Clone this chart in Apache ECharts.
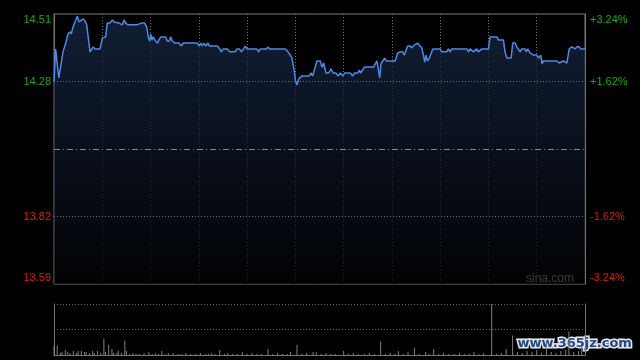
<!DOCTYPE html>
<html>
<head>
<meta charset="utf-8">
<script src="https://cdn.jsdelivr.net/npm/echarts@6/dist/echarts.min.js"></script>
<style>
  html, body { margin: 0; background: #000; }
  #chart { width: 640px; height: 360px; }
</style>
</head>
<body>
<div id="chart"></div>
<script>
// minutes since 9:30 (HK session, lunch break folded out) and price
const priceTimes = [0, 1, 3, 4, 5.6, 7.3, 8.7, 10, 10.8, 11.6, 12.8, 14.5, 15.5, 16.6, 18.2, 19.3, 20.3, 21.3, 22.4, 23.4,
  24.4, 25.5, 28.6, 30, 32.1, 33.1, 34.8, 36.3, 37.3, 40.4, 41.4, 42.5, 43.5, 44.5, 46, 47.2, 48.5, 51.4, 52.4, 54.3,
  55.3, 56.3, 57.6, 58.6, 59.5, 60.1, 60.9, 61.7, 62.8, 64.2, 65.3, 66.3, 69.4, 70.4, 71.7, 72.5, 73.5, 75, 77.7, 79.1,
  80.4, 89.1, 90.3, 91.2, 92.2, 93.2, 94.3, 95.7, 96.5, 101.5, 103, 104, 105.2, 107.7, 109.2, 112.7, 113.7, 115.2, 116.4, 117.9,
  118.9, 119.9, 126.1, 127.2, 128.2, 132, 133, 134, 143.7, 145.4, 146.9, 147.9, 148.9, 149.5, 150, 151, 152.1, 153.1, 154.1, 158.7,
  159.7, 160.8, 162, 163.4, 165.5, 166.5, 167.6, 169, 170.7, 172.1, 173.4, 175.2, 176.5, 177.9, 179.6, 180.6, 184.1, 185.6, 186.8, 188.9,
  189.7, 190.6, 191.8, 192.9, 198.6, 200.7, 201.8, 202.4, 203.2, 204.2, 205.5, 206.5, 212.1, 213.6, 215.2, 216.7, 217.7, 218.7, 219.8, 221.4,
  222.3, 223.8, 225.9, 227.5, 228.6, 229.6, 230.4, 231.2, 232.1, 233.3, 234.4, 235.4, 240, 241, 244.1, 245.1, 246.2, 247.2, 256.5, 257.6,
  258.6, 259.6, 260.7, 261.7, 262.7, 263.8, 264.8, 265.8, 270, 271, 275.2, 276.2, 279.3, 280.3, 281.4, 284.1, 285.1, 286.6, 287.6, 289.7,
  290.7, 292.8, 293.4, 294.4, 295.9, 296.9, 298, 299, 300, 301.1, 302.5, 303.3, 304.2, 312.5, 313.9, 315.1, 316.6, 317.6, 318.7, 320.2,
  321.8, 322.8, 323.8, 324.9, 326.3, 327.4, 330];
const prices = [14.278, 14.391, 14.292, 14.295, 14.381, 14.411, 14.442, 14.449, 14.442, 14.462, 14.466, 14.503, 14.483, 14.483, 14.493, 14.486, 14.473, 14.479, 14.381, 14.381,
  14.398, 14.391, 14.391, 14.428, 14.432, 14.479, 14.479, 14.490, 14.483, 14.479, 14.473, 14.473, 14.490, 14.479, 14.473, 14.479, 14.473, 14.473, 14.479, 14.479,
  14.473, 14.479, 14.466, 14.432, 14.418, 14.442, 14.421, 14.432, 14.421, 14.411, 14.411, 14.432, 14.432, 14.418, 14.418, 14.432, 14.418, 14.411, 14.411, 14.401,
  14.411, 14.411, 14.401, 14.411, 14.401, 14.411, 14.401, 14.411, 14.401, 14.401, 14.391, 14.381, 14.391, 14.391, 14.381, 14.381, 14.391, 14.391, 14.381, 14.391,
  14.401, 14.391, 14.391, 14.381, 14.391, 14.391, 14.398, 14.391, 14.391, 14.381, 14.370, 14.360, 14.357, 14.309, 14.285, 14.268, 14.289, 14.292, 14.299, 14.299,
  14.309, 14.299, 14.323, 14.350, 14.350, 14.329, 14.343, 14.309, 14.309, 14.323, 14.309, 14.309, 14.299, 14.309, 14.299, 14.309, 14.309, 14.299, 14.309, 14.309,
  14.319, 14.309, 14.309, 14.329, 14.329, 14.350, 14.350, 14.292, 14.340, 14.340, 14.360, 14.350, 14.350, 14.377, 14.381, 14.381, 14.370, 14.370, 14.401, 14.401,
  14.394, 14.404, 14.411, 14.401, 14.394, 14.370, 14.346, 14.370, 14.350, 14.360, 14.360, 14.391, 14.391, 14.381, 14.381, 14.391, 14.381, 14.391, 14.391, 14.381,
  14.391, 14.391, 14.381, 14.381, 14.391, 14.381, 14.381, 14.391, 14.391, 14.432, 14.432, 14.421, 14.421, 14.381, 14.360, 14.360, 14.411, 14.411, 14.398, 14.381,
  14.391, 14.391, 14.381, 14.391, 14.377, 14.381, 14.370, 14.367, 14.370, 14.360, 14.370, 14.340, 14.350, 14.350, 14.343, 14.343, 14.350, 14.350, 14.343, 14.391,
  14.398, 14.398, 14.391, 14.398, 14.398, 14.391, 14.391];
const prevClose = 14.05;
const priceTicks = [13.59, 13.82, 14.28, 14.51];
const priceLabels = ['13.59', '13.82', '14.28', '14.51'];
const pctLabels = ['-3.24%', '-1.62%', '+1.62%', '+3.24%'];
const volTimes = [0, 2, 4, 5, 7, 8.5, 10, 12, 14, 15, 17, 19, 20, 22, 24, 25, 27, 29, 31, 32,
  34, 36, 37, 39, 40, 42, 44, 45, 47, 49, 51, 53, 56, 59, 61, 63, 65, 67, 69, 71,
  74, 77, 79, 82, 85, 88, 91, 94, 96, 98, 100, 103, 106, 108, 111, 114, 117, 120, 123, 126,
  129, 133, 136, 139, 142, 145, 147, 151, 154, 157, 161, 163, 166, 169, 172, 175, 180, 183, 186, 189,
  193, 196, 199, 203, 206, 209, 212, 214, 217, 220, 224, 227, 231, 233, 236, 239, 242, 245, 249, 252,
  255, 258, 261, 264, 267, 272, 275, 278, 281, 285, 288, 291, 294, 297, 300, 303, 306, 309, 312, 315,
  318, 320, 323, 326, 328];
const volumes = [9, 9, 2, 3, 5, 3, 2, 4, 2, 4, 4, 3, 3, 2, 4, 2, 4, 2, 16, 3,
  10, 6, 2, 2, 4, 2, 14, 4, 1, 2, 1, 1, 2, 3, 1, 2, 1, 4, 1, 2,
  2, 1, 1, 2, 1, 1, 2, 1, 1, 2, 1, 5, 1, 2, 1, 1, 3, 1, 2, 1,
  1, 6, 1, 2, 1, 1, 3, 10, 1, 2, 3, 3, 1, 2, 1, 1, 4, 1, 2, 1,
  1, 2, 1, 13, 1, 2, 1, 4, 1, 3, 7, 1, 3, 1, 6, 1, 2, 1, 1, 2,
  1, 1, 3, 1, 2, 60, 1, 2, 6, 19, 3, 2, 4, 3, 5, 2, 12, 3, 2, 4,
  5, 23, 3, 4, 8];

const chart = echarts.init(document.getElementById('chart'));

const green = '#1ca81c';
const red = '#e01a0a';
const font = 'Liberation Sans, Arial, sans-serif';

function labelFormatter(texts) {
  return function (value) {
    const i = priceTicks.findIndex(v => Math.abs(v - value) < 1e-6);
    if (i < 0) return '';
    let key = value > prevClose ? 'up' : 'dn';
    if (i === priceTicks.length - 1) key += 'Top';
    if (i === 0) key += 'Bot';
    return '{' + key + '|' + texts[i] + '}';
  };
}
const labelRich = {
  up: { color: green, fontSize: 11, fontFamily: font },
  upTop: { color: green, fontSize: 11, fontFamily: font, padding: [12, 0, 0, 0] },
  dn: { color: red, fontSize: 11, fontFamily: font },
  dnBot: { color: red, fontSize: 11, fontFamily: font, padding: [0, 0, 12, 0] }
};

const dotted = { color: '#707070', width: 1, type: [1, 2] };

chart.setOption({
  backgroundColor: '#000',
  animation: false,
  grid: [
    { left: 54, right: 55, top: 14, height: 270, show: true, borderColor: '#777', borderWidth: 1, backgroundColor: 'transparent' },
    { left: 54, right: 55, top: 304, height: 51 }
  ],
  xAxis: [
    {
      type: 'value', gridIndex: 0, min: 0, max: 330, interval: 30,
      axisLine: { show: false }, axisTick: { show: false }, axisLabel: { show: false },
      splitLine: { show: true, showMinLine: false, showMaxLine: false, lineStyle: dotted }
    },
    {
      type: 'value', gridIndex: 1, min: 0, max: 330, interval: 30,
      axisLine: { show: true, lineStyle: { color: '#777' } }, axisTick: { show: false }, axisLabel: { show: false },
      splitLine: { show: false }
    }
  ],
  yAxis: [
    {
      type: 'value', gridIndex: 0, position: 'left', min: 13.59, max: 14.51,
      axisLine: { show: true, lineStyle: { color: '#777' } }, axisTick: { show: false },
      splitLine: { show: false },
      axisLabel: { customValues: priceTicks, margin: 3, formatter: labelFormatter(priceLabels), rich: labelRich }
    },
    {
      type: 'value', gridIndex: 0, position: 'right', min: 13.59, max: 14.51,
      axisLine: { show: true, lineStyle: { color: '#777' } }, axisTick: { show: false },
      splitLine: { show: false },
      axisLabel: { customValues: priceTicks, margin: 5, formatter: labelFormatter(pctLabels), rich: labelRich }
    },
    {
      type: 'value', gridIndex: 1, position: 'left', min: 0, max: 50, interval: 25,
      axisLine: { show: true, lineStyle: { color: '#777' } }, axisTick: { show: false }, axisLabel: { show: false },
      splitLine: { show: true, showMinLine: false, lineStyle: dotted }
    },
    {
      type: 'value', gridIndex: 1, position: 'right', min: 0, max: 50,
      axisLine: { show: true, lineStyle: { color: '#777' } }, axisTick: { show: false }, axisLabel: { show: false },
      splitLine: { show: false }
    }
  ],
  series: [
    {
      type: 'line',
      xAxisIndex: 0, yAxisIndex: 0,
      data: priceTimes.map((t, i) => [t, prices[i]]),
      showSymbol: false,
      lineStyle: { color: '#4c8ae6', width: 1.5 },
      areaStyle: {
        color: new echarts.graphic.LinearGradient(0, 0, 0, 1, [
          { offset: 0, color: '#182a4a' },
          { offset: 1, color: '#020304' }
        ])
      },
      markLine: {
        silent: true,
        symbol: 'none',
        label: { show: false },
        data: [
          { yAxis: 14.28, lineStyle: dotted },
          { yAxis: 13.82, lineStyle: dotted },
          { yAxis: prevClose, lineStyle: { color: '#8a8a8a', width: 1, type: [6, 3, 1, 3] } }
        ]
      }
    },
    {
      type: 'bar',
      xAxisIndex: 1, yAxisIndex: 2,
      data: volTimes.map((t, i) => [t, volumes[i]]),
      barWidth: 1,
      itemStyle: { color: '#808080' }
    }
  ],
  graphic: [
    {
      type: 'text', right: 66, top: 273,
      style: { text: 'sina.com', fill: '#b8b8b8', font: '12px ' + font }
    },
    {
      type: 'text', left: 516, top: 336,
      style: {
        text: 'www.365jz.com', fill: '#24478a', stroke: '#e6e6e6', lineWidth: 3,
        font: 'bold 13px DejaVu Sans, sans-serif'
      }
    }
  ]
});
</script>
</body>
</html>
